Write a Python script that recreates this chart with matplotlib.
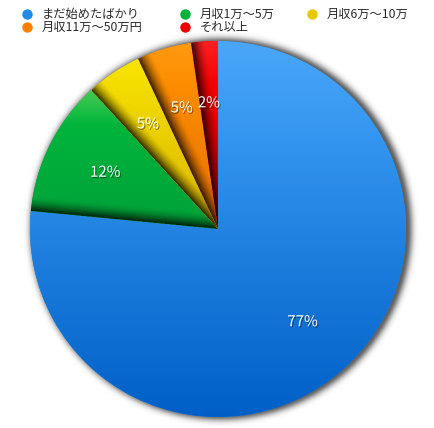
import numpy as np
import matplotlib
matplotlib.use('Agg')
import matplotlib.pyplot as plt
from matplotlib.lines import Line2D
from matplotlib.colors import to_rgb
import matplotlib.patheffects as pe

plt.rcParams['font.family'] = ['Noto Sans CJK JP', 'DejaVu Sans']

categories = ['まだ始めたばかり', '月収1万〜5万', '月収6万〜10万', '月収11万〜50万円', 'それ以上']
values = [76.6, 11.7, 4.8, 4.7, 2.3]
top_colors = ['#4aa7f8', '#46ca52', '#f8e400', '#ff9a10', '#ff2020']
mid_colors = ['#3596f0', '#00b53c', '#f0d800', '#fb8c00', '#f20000']
bottom_colors = ['#005fc6', '#00a038', '#d8b400', '#e87000', '#cc0000']
legend_colors = ['#1f8ae8', '#00b23a', '#e6c800', '#ff8000', '#ee0000']

W, H = 435, 428
CX, CY = 218, 229   # pie centre in pixels (from top-left)
R = 188             # pie radius in pixels

fig = plt.figure(figsize=(W / 100, H / 100), dpi=100)
ax = fig.add_axes([0, 0, 1, 1])

wedges, _texts, autotexts = ax.pie(
    values, startangle=90, counterclock=False, radius=1,
    autopct=lambda p: f'{p:.0f}%', pctdistance=0.67,
    colors=legend_colors, wedgeprops=dict(linewidth=0),
    textprops=dict(color='white', fontsize=10.8))

# drop shadow
xmin, xmax = -CX / R, (W - CX) / R
ymin, ymax = -(H - CY) / R, CY / R
xs = np.linspace(xmin, xmax, W * 2)
ys = np.linspace(ymax, ymin, H * 2)
X, Y = np.meshgrid(xs, ys)
sx, sy = 3 / R, 0 / R
dist = (np.hypot(X - sx, Y - sy) - 1) * R
alpha = 0.62 * np.exp(-np.clip(dist + 1.5, 0, None) ** 2 / (2 * 4.0 ** 2))
shadow = np.zeros((len(ys), len(xs), 4))
shadow[..., 3] = alpha
ax.imshow(shadow, extent=[xmin, xmax, ymin, ymax], zorder=0, interpolation='bilinear')

# gradient fill per wedge
n = 700
gx = np.linspace(-1, 1, n)
gy = np.linspace(1, -1, n)
GX, GY = np.meshgrid(gx, gy)
for i, w in enumerate(wedges):
    w.set_zorder(1)
    ext = w.get_path().get_extents()
    ytop, ybot = ext.y1, ext.y0
    t = np.clip((ytop - GY) / (ytop - ybot), 0, 1)[..., None]
    c0 = np.array(to_rgb(top_colors[i]))
    cm = np.array(to_rgb(mid_colors[i]))
    c1 = np.array(to_rgb(bottom_colors[i]))
    s1 = np.clip(t / 0.25, 0, 1)
    s2 = np.clip((t - 0.25) / 0.75, 0, 1)
    rgb = np.where(t < 0.25, c0 * (1 - s1) + cm * s1, cm * (1 - s2) + c1 * s2)
    if i > 0:
        th = np.deg2rad(w.theta2)
        d = (GX * np.sin(th) - GY * np.cos(th)) * R
        dark = 0.82 * np.clip(1 - d / 15, 0, 1) ** 1.6
        dark[d < 0] = 0
        rgb = rgb * (1 - dark[..., None])
    im = ax.imshow(np.clip(rgb, 0, 1), extent=[-1, 1, -1, 1], zorder=2, interpolation='bilinear')
    im.set_clip_path(w)

for at in autotexts:
    at.set_zorder(5)
    at.set_path_effects([pe.SimplePatchShadow(offset=(0.8, -1), shadow_rgbFace='black', alpha=0.4), pe.Normal()])

ax.set_xlim(xmin, xmax)
ax.set_ylim(ymin, ymax)
ax.set_aspect('auto')
ax.axis('off')

# legend
leg_x = [27, 185, 312]
leg_y = [14, 27]
for i, (lab, col) in enumerate(zip(categories, legend_colors)):
    r, c = divmod(i, 3)
    xm, ym = leg_x[c], leg_y[r]
    fig.add_artist(Line2D([xm / W], [1 - ym / H], transform=fig.transFigure, marker='o',
                          markersize=7.5, color=col, markeredgewidth=0, linestyle='none'))
    fig.text((xm + 15) / W, 1 - ym / H, lab, fontsize=8.8, color='#2a2a2a', va='center', ha='left')

fig.savefig('out.png', dpi=100)
